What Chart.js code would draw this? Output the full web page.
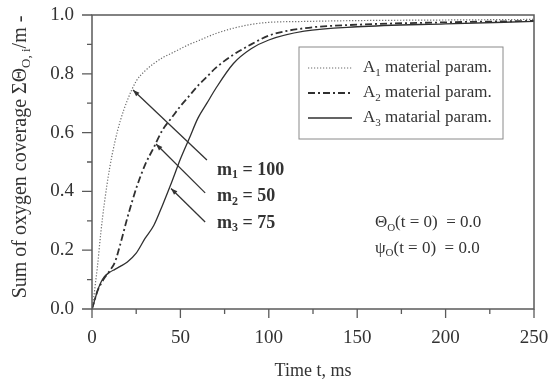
<!DOCTYPE html>
<html>
<head>
<meta charset="utf-8">
<script src="https://cdn.jsdelivr.net/npm/chart.js@4.4.1/dist/chart.umd.min.js"></script>
<style>
  html, body { margin: 0; padding: 0; background: #fff; }
</style>
</head>
<body>
<canvas id="coverageChart" width="559" height="386"></canvas>
<script>
// time axis (ms) shared by the three curves
const times = [0, 1, 2, 3, 5, 7, 10, 13, 16, 20, 25, 30, 35, 40, 45, 50, 55, 60, 65, 70, 80, 90, 100, 120, 150, 200, 250]

const coverageA1 = [0, 0.04, 0.09, 0.14, 0.26, 0.36, 0.48, 0.57, 0.64, 0.71, 0.775, 0.81, 0.835, 0.855, 0.87, 0.885, 0.9, 0.912, 0.925, 0.937, 0.955, 0.968, 0.975, 0.978, 0.981, 0.983, 0.985]
const coverageA2 = [0, 0.02, 0.04, 0.06, 0.085, 0.105, 0.13, 0.16, 0.22, 0.31, 0.41, 0.49, 0.55, 0.61, 0.65, 0.69, 0.725, 0.76, 0.79, 0.82, 0.865, 0.9, 0.93, 0.955, 0.967, 0.975, 0.98]
const coverageA3 = [0, 0.02, 0.04, 0.06, 0.09, 0.11, 0.125, 0.135, 0.145, 0.16, 0.19, 0.24, 0.285, 0.355, 0.43, 0.51, 0.58, 0.65, 0.7, 0.75, 0.835, 0.885, 0.915, 0.945, 0.96, 0.97, 0.978]

const xTicks = [0, 50, 100, 150, 200, 250]
const yTicks = [0.0, 0.2, 0.4, 0.6, 0.8, 1.0]

// legend labels: [main, subscript, rest]
const seriesLabels = [
  ["A", "1", " material param."],
  ["A", "2", " material param."],
  ["A", "3", " matarial param."]
]

// arrow annotations in data units: [tail t, tail value, head t, head value]
const arrows = [
  [65, 0.507, 23.2, 0.745],
  [64, 0.395, 36.2, 0.561],
  [64, 0.296, 44.7, 0.41]
]
// m labels: [t, value, subscript, text]
const mLabels = [
  [70.7, 0.473, "1", " = 100"],
  [70.7, 0.384, "2", " = 50"],
  [70.7, 0.293, "3", " = 75"]
]
// initial conditions text: [t, value, symbol, rest]
const initLabels = [
  [160, 0.293, "\u0398", "(t = 0)  = 0.0"],
  [160, 0.207, "\u03C8", "(t = 0)  = 0.0"]
]

const SERIF = "'Liberation Serif', 'DejaVu Serif', serif"
const INK = "#333"

function points(vals) {
  return times.map((t, i) => ({ x: t, y: vals[i] }))
}

// draws text pieces, some lowered as subscripts
function drawRich(ctx, x, y, parts, size, bold) {
  ctx.textBaseline = "middle"
  ctx.textAlign = "left"
  parts.forEach(([txt, sub]) => {
    const s = sub ? Math.round(size * 0.65) : size
    ctx.font = (bold ? "bold " : "") + s + "px " + SERIF
    ctx.fillText(txt, x, sub ? y + size * 0.3 : y)
    x += ctx.measureText(txt).width
  })
  return x
}

function richWidth(ctx, parts, size, bold) {
  let w = 0
  parts.forEach(([txt, sub]) => {
    const s = sub ? Math.round(size * 0.65) : size
    ctx.font = (bold ? "bold " : "") + s + "px " + SERIF
    w += ctx.measureText(txt).width
  })
  return w
}

const decorations = {
  id: "decorations",
  afterDraw(chart) {
    const { ctx, chartArea: a, scales: { x, y } } = chart
    ctx.save()

    // frame
    ctx.strokeStyle = "#5a5a5a"
    ctx.lineWidth = 1.5
    ctx.strokeRect(a.left, a.top, a.right - a.left, a.bottom - a.top)

    // outward ticks, major + minor
    ctx.lineWidth = 1.3
    ctx.beginPath()
    for (let i = 0; i < xTicks.length; i++) {
      const px = x.getPixelForValue(xTicks[i])
      ctx.moveTo(px, a.bottom); ctx.lineTo(px, a.bottom + 9)
      if (i < xTicks.length - 1) {
        const mx = x.getPixelForValue((xTicks[i] + xTicks[i + 1]) / 2)
        ctx.moveTo(mx, a.bottom); ctx.lineTo(mx, a.bottom + 5)
      }
    }
    for (let i = 0; i < yTicks.length; i++) {
      const py = y.getPixelForValue(yTicks[i])
      ctx.moveTo(a.left, py); ctx.lineTo(a.left - 10, py)
      if (i < yTicks.length - 1) {
        const my = y.getPixelForValue((yTicks[i] + yTicks[i + 1]) / 2)
        ctx.moveTo(a.left, my); ctx.lineTo(a.left - 5, my)
      }
    }
    ctx.stroke()

    // y axis title, rotated, with subscript
    const titleParts = [["Sum of oxygen coverage \u03A3\u0398"], ["O, i", true], ["/m -"]]
    ctx.fillStyle = INK
    ctx.save()
    ctx.translate(21, (a.top + a.bottom) / 2 - 5)
    ctx.rotate(-Math.PI / 2)
    const tw = richWidth(ctx, titleParts, 20)
    drawRich(ctx, -tw / 2, 0, titleParts, 20)
    ctx.restore()

    // legend box
    const lx = a.right - 235, ly = a.top + 32, lw = 204, lh = 92
    ctx.fillStyle = "#fff"
    ctx.fillRect(lx, ly, lw, lh)
    ctx.strokeStyle = "#8a8a8a"
    ctx.lineWidth = 1
    ctx.strokeRect(lx, ly, lw, lh)
    chart.data.datasets.forEach((ds, i) => {
      const ry = ly + 21 + i * 25
      ctx.strokeStyle = ds.borderColor
      ctx.lineWidth = ds.borderWidth
      ctx.setLineDash(ds.borderDash || [])
      ctx.beginPath()
      ctx.moveTo(lx + 9, ry); ctx.lineTo(lx + 53, ry)
      ctx.stroke()
      ctx.setLineDash([])
      ctx.fillStyle = INK
      const [a0, s0, r0] = seriesLabels[i]
      drawRich(ctx, lx + 64, ry, [[a0], [s0, true], [r0]], 17)
    })

    // arrows
    ctx.strokeStyle = INK
    ctx.fillStyle = INK
    ctx.lineWidth = 1.3
    arrows.forEach(([t0, v0, t1, v1]) => {
      const x0 = x.getPixelForValue(t0), y0 = y.getPixelForValue(v0)
      const x1 = x.getPixelForValue(t1), y1 = y.getPixelForValue(v1)
      ctx.beginPath()
      ctx.moveTo(x0, y0); ctx.lineTo(x1, y1)
      ctx.stroke()
      const ang = Math.atan2(y1 - y0, x1 - x0)
      ctx.beginPath()
      ctx.moveTo(x1, y1)
      ctx.lineTo(x1 - 7 * Math.cos(ang - 0.35), y1 - 7 * Math.sin(ang - 0.35))
      ctx.lineTo(x1 - 7 * Math.cos(ang + 0.35), y1 - 7 * Math.sin(ang + 0.35))
      ctx.closePath()
      ctx.fill()
    })

    // m labels
    mLabels.forEach(([t, v, sub, rest]) => {
      drawRich(ctx, x.getPixelForValue(t), y.getPixelForValue(v), [["m"], [sub, true], [rest]], 18, true)
    })

    // initial conditions
    initLabels.forEach(([t, v, sym, rest]) => {
      drawRich(ctx, x.getPixelForValue(t), y.getPixelForValue(v), [[sym], ["O", true], [rest]], 17)
    })

    ctx.restore()
  }
}

// invisible tick marks only reserve the gap between axis and labels
const spacerGrid = {
  display: true,
  drawOnChartArea: false,
  drawTicks: true,
  tickLength: 16,
  tickColor: "rgba(0,0,0,0)"
}

const canvas = document.getElementById("coverageChart")

new Chart(canvas, {
  type: "line",
  data: {
    datasets: [
      {
        label: "A1 material param.",
        data: points(coverageA1),
        borderColor: "#6a6a6a",
        borderWidth: 1.2,
        borderDash: [1.2, 1.8]
      },
      {
        label: "A2 material param.",
        data: points(coverageA2),
        borderColor: "#303030",
        borderWidth: 1.8,
        borderDash: [7, 3, 2, 3]
      },
      {
        label: "A3 matarial param.",
        data: points(coverageA3),
        borderColor: "#303030",
        borderWidth: 1.3
      }
    ]
  },
  options: {
    responsive: false,
    animation: false,
    cubicInterpolationMode: "monotone",
    elements: { point: { radius: 0 } },
    layout: { padding: { left: 0, right: 25, top: 15, bottom: 0 } },
    plugins: {
      legend: { display: false },
      tooltip: { enabled: false }
    },
    scales: {
      x: {
        type: "linear",
        min: 0,
        max: 250,
        afterBuildTicks: (s) => { s.ticks = xTicks.map((v) => ({ value: v })) },
        afterFit: (s) => { s.height = 77 },
        ticks: {
          padding: 2,
          color: INK,
          font: { family: SERIF, size: 19 }
        },
        grid: spacerGrid,
        border: { display: false },
        title: {
          display: true,
          text: "Time t, ms",
          color: INK,
          font: { family: SERIF, size: 18 },
          padding: { top: 0, bottom: 4 }
        }
      },
      y: {
        min: 0,
        max: 1,
        afterBuildTicks: (s) => { s.ticks = yTicks.map((v) => ({ value: v })) },
        afterFit: (s) => { s.width = 92 },
        ticks: {
          padding: 2,
          color: INK,
          font: { family: SERIF, size: 19 },
          callback: (v) => v.toFixed(1)
        },
        grid: spacerGrid,
        border: { display: false }
      }
    }
  },
  plugins: [decorations]
})
</script>
</body>
</html>
